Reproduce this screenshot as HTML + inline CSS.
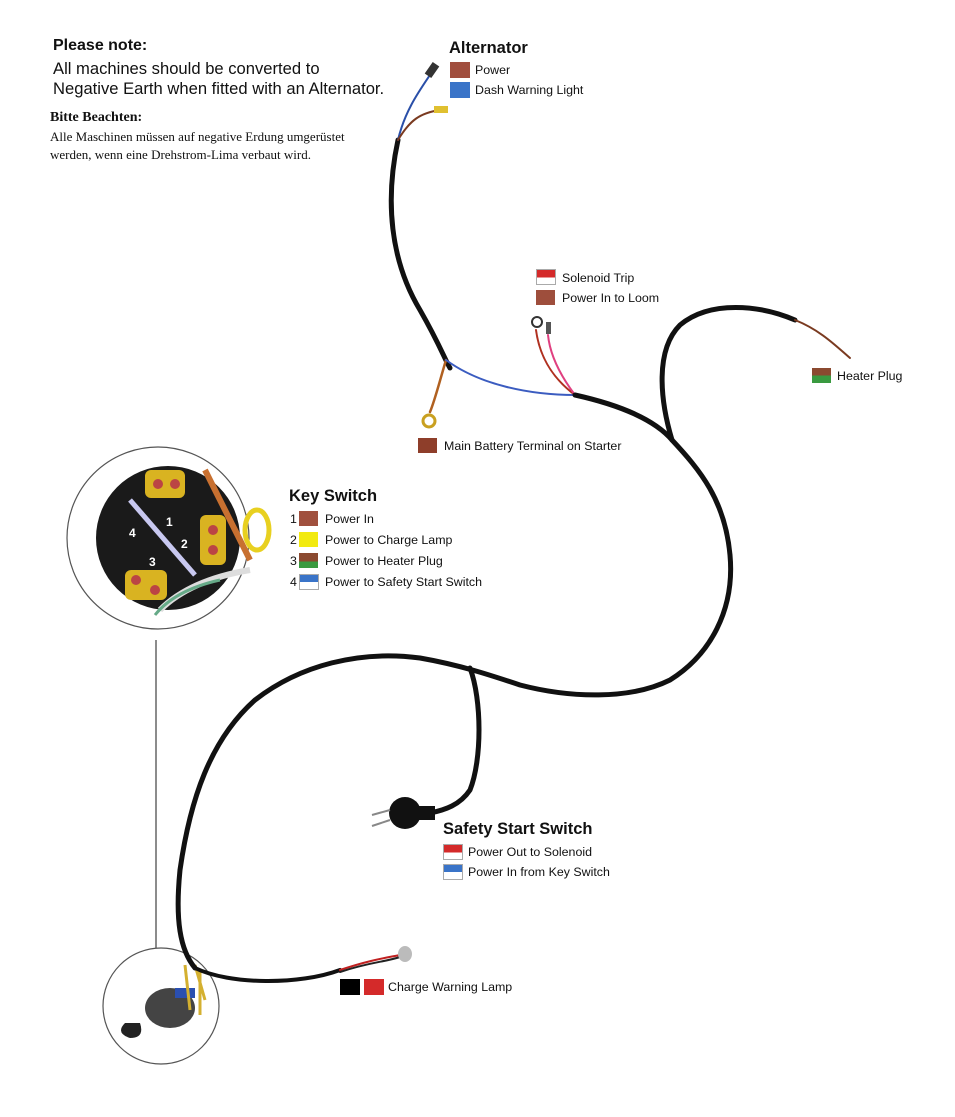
<!DOCTYPE html>
<html><head><meta charset="utf-8"><style>
html,body{margin:0;padding:0;background:#fff;}
body{width:955px;height:1117px;position:relative;overflow:hidden;font-family:"Liberation Sans",sans-serif;}
.t{position:absolute;white-space:nowrap;color:#111;}
.h{font-weight:bold;font-size:16.5px;}
.l{font-size:12.4px;}
.sw{position:absolute;width:19px;height:15px;}
</style></head><body>
<svg width="955" height="1117" style="position:absolute;left:0;top:0">
<circle cx="158" cy="538" r="91" fill="#fff" stroke="#555" stroke-width="1.2"/>
<line x1="156" y1="640" x2="156" y2="958" stroke="#666" stroke-width="1.5"/>
<circle cx="161" cy="1006" r="58" fill="#fff" stroke="#555" stroke-width="1.2"/>
<circle cx="168" cy="538" r="72" fill="#1a1a1a"/>
<rect x="145" y="470" width="40" height="28" rx="6" fill="#d9b321"/>
<circle cx="158" cy="484" r="5" fill="#b44"/><circle cx="175" cy="484" r="5" fill="#b44"/>
<rect x="200" y="515" width="26" height="50" rx="6" fill="#d9b321"/>
<circle cx="213" cy="530" r="5" fill="#b44"/><circle cx="213" cy="550" r="5" fill="#b44"/>
<rect x="125" y="570" width="42" height="30" rx="6" fill="#d9b321"/>
<circle cx="136" cy="580" r="5" fill="#b44"/><circle cx="155" cy="590" r="5" fill="#b44"/>
<line x1="130" y1="500" x2="195" y2="575" stroke="#c8c8f0" stroke-width="5"/>
<path d="M205 470 Q230 520 250 560" stroke="#c87030" stroke-width="6" fill="none"/>
<ellipse cx="257" cy="530" rx="12" ry="20" fill="none" stroke="#e8d020" stroke-width="5"/>
<path d="M160 610 Q190 580 250 570" stroke="#ddd" stroke-width="6" fill="none"/>
<path d="M155 615 Q175 590 220 580" stroke="#6a8" stroke-width="3" fill="none"/>
<text x="166" y="526" fill="#fff" font-size="12" font-weight="bold" font-family="Liberation Sans">1</text>
<text x="181" y="548" fill="#fff" font-size="12" font-weight="bold" font-family="Liberation Sans">2</text>
<text x="149" y="566" fill="#fff" font-size="12" font-weight="bold" font-family="Liberation Sans">3</text>
<text x="129" y="537" fill="#fff" font-size="12" font-weight="bold" font-family="Liberation Sans">4</text>
<ellipse cx="170" cy="1008" rx="25" ry="20" fill="#444"/>
<rect x="175" y="988" width="20" height="10" fill="#2a4fb0"/>
<path d="M185 965 L190 1010 M195 965 L205 1000 M200 970 L200 1015" stroke="#d4b030" stroke-width="3"/>
<path d="M125 1023 q-10 10 5 15 q15 0 10 -15z" fill="#222"/>
<g fill="none" stroke-linecap="round" stroke-linejoin="round">
<path d="M398 140 C385 200 390 260 420 310 C440 345 445 360 450 368" stroke="#111" stroke-width="5"/>
<path d="M398 140 C405 110 420 90 432 72" stroke="#2a4fa8" stroke-width="2"/>
<path d="M398 140 C410 120 420 113 440 110" stroke="#7a3a20" stroke-width="2"/>
<path d="M446 360 C440 380 435 400 430 412" stroke="#b06020" stroke-width="2.5"/>
<circle cx="429" cy="421" r="6" stroke="#c9a020" stroke-width="3"/>
<path d="M446 360 C480 385 530 395 575 395" stroke="#3b5cc0" stroke-width="2"/>
<path d="M575 395 C555 380 540 360 536 330" stroke="#b03020" stroke-width="2"/>
<path d="M575 395 C560 375 550 355 548 335" stroke="#e04080" stroke-width="2"/>
<circle cx="537" cy="322" r="5" stroke="#333" stroke-width="2"/>
<rect x="546" y="322" width="5" height="12" fill="#555" stroke="none"/>
<path d="M575 395 C620 405 655 420 672 440 C700 470 725 500 730 555 C735 610 710 655 670 680 C630 700 570 698 520 685 C490 675 460 665 420 658 C360 650 300 665 255 700 C210 740 190 800 180 870 C175 920 180 950 195 968" stroke="#111" stroke-width="5"/>
<path d="M672 440 C660 400 655 350 680 325 C710 300 760 305 795 320" stroke="#111" stroke-width="5"/>
<path d="M795 320 C820 330 835 345 850 358" stroke="#7a3a20" stroke-width="2"/>
<path d="M470 668 C482 700 482 760 470 790 C460 805 445 810 430 813" stroke="#111" stroke-width="5"/>
<path d="M195 968 C230 985 300 985 340 970" stroke="#111" stroke-width="4"/>
<path d="M340 970 C370 960 385 958 400 955" stroke="#c02020" stroke-width="2"/>
<path d="M340 972 C370 962 385 962 400 957" stroke="#222" stroke-width="2"/>
</g>
<rect x="428" y="63" width="8" height="14" fill="#333" transform="rotate(35 432 70)"/>
<rect x="434" y="106" width="14" height="7" fill="#e0c030"/>
<ellipse cx="405" cy="954" rx="7" ry="8" fill="#bbb"/>
<circle cx="405" cy="813" r="16" fill="#111"/><rect x="415" y="806" width="20" height="14" fill="#111"/>
<path d="M390 810 L372 815 M390 820 L372 826" stroke="#888" stroke-width="2"/>
</svg>

<div class="t h" style="left:53px;top:37px;font-size:16px">Please note:</div>
<div class="t" style="left:53px;top:59px;font-size:16.6px;line-height:20px">All machines should be converted to<br>Negative Earth when fitted with an Alternator.</div>
<div class="t" style="left:50px;top:110px;font-family:'Liberation Serif',serif;font-size:14px;font-weight:bold">Bitte Beachten:</div>
<div class="t" style="left:50px;top:128px;font-family:'Liberation Serif',serif;font-size:13px;line-height:18px">Alle Maschinen müssen auf negative Erdung umgerüstet<br>werden, wenn eine Drehstrom-Lima verbaut wird.</div>

<div class="t h" style="left:449px;top:39px">Alternator</div>
<div class="sw" style="left:450px;top:62px;width:20px;height:16px;background:#a14e3e"></div><div class="t l" style="left:475px;top:63px">Power</div>
<div class="sw" style="left:450px;top:82px;width:20px;height:16px;background:#3a74c8"></div><div class="t l" style="left:475px;top:83px">Dash Warning Light</div>

<div class="sw" style="left:536px;top:269px;background:linear-gradient(#d42a2a 55%,#fff 55%);border:1px solid #aaa;width:18px;height:14px"></div><div class="t l" style="left:562px;top:271px">Solenoid Trip</div>
<div class="sw" style="left:536px;top:290px;background:#9e4e3c"></div><div class="t l" style="left:562px;top:291px">Power In to Loom</div>

<div class="sw" style="left:812px;top:368px;background:linear-gradient(#8b4a30 50%,#3a9a40 50%)"></div><div class="t l" style="left:837px;top:369px">Heater Plug</div>
<div class="sw" style="left:418px;top:438px;background:#8e3e2a"></div><div class="t l" style="left:444px;top:439px">Main Battery Terminal on Starter</div>

<div class="t h" style="left:289px;top:487px">Key Switch</div>
<div class="t l" style="left:290px;top:512px">1</div><div class="sw" style="left:299px;top:511px;background:#a0503e"></div><div class="t l" style="left:325px;top:512px">Power In</div>
<div class="t l" style="left:290px;top:533px">2</div><div class="sw" style="left:299px;top:532px;background:#f2ea10"></div><div class="t l" style="left:325px;top:533px">Power to Charge Lamp</div>
<div class="t l" style="left:290px;top:554px">3</div><div class="sw" style="left:299px;top:553px;background:linear-gradient(#8b4a30 55%,#3a9a40 55%)"></div><div class="t l" style="left:325px;top:554px">Power to Heater Plug</div>
<div class="t l" style="left:290px;top:575px">4</div><div class="sw" style="left:299px;top:574px;background:linear-gradient(#3a74c8 50%,#fff 50%);border:1px solid #aaa;width:18px;height:14px"></div><div class="t l" style="left:325px;top:575px">Power to Safety Start Switch</div>

<div class="t h" style="left:443px;top:820px">Safety Start Switch</div>
<div class="sw" style="left:443px;top:844px;background:linear-gradient(#d42a2a 55%,#fff 55%);border:1px solid #aaa;width:18px;height:14px"></div><div class="t l" style="left:468px;top:845px">Power Out to Solenoid</div>
<div class="sw" style="left:443px;top:864px;background:linear-gradient(#3a74c8 50%,#fff 50%);border:1px solid #aaa;width:18px;height:14px"></div><div class="t l" style="left:468px;top:865px">Power In from Key Switch</div>

<div class="sw" style="left:340px;top:979px;width:20px;height:16px;background:#000"></div>
<div class="sw" style="left:364px;top:979px;width:20px;height:16px;background:#d42a2a"></div>
<div class="t l" style="left:388px;top:980px">Charge Warning Lamp</div>
</body></html>
